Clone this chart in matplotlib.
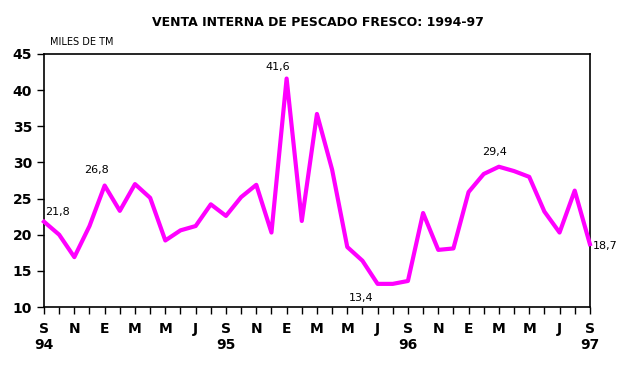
# Venta interna de pescado fresco, Sep 1994 - Sep 1997 (monthly)
import matplotlib.pyplot as plt
import numpy as np

# monthly values, miles de TM
venta = [21.8, 20.0, 16.9, 21.2, 26.8, 23.3, 27.0, 25.1, 19.2, 20.6, 21.2, 24.2,
         22.6, 25.2, 26.9, 20.3, 41.6, 21.9, 36.7, 29.0, 18.3, 16.4, 13.2, 13.2,
         13.6, 23.0, 17.9, 18.1, 25.9, 28.4, 29.4, 28.8, 28.0, 23.2, 20.3, 26.1,
         18.7]
meses = ["S\n94", "N", "E", "M", "M", "J", "S\n95", "N", "E", "M", "M", "J",
         "S\n96", "N", "E", "M", "M", "J", "S\n97"]
# point labels: (month index, text)
etiquetas = [(0, "21,8"), (4, "26,8"), (16, "41,6"), (30, "29,4"), (22, "13,4"), (36, "18,7")]

x = np.arange(len(venta))

fig = plt.figure(figsize=(6.26, 3.76), dpi=100)
ax = fig.add_axes([0.0703, 0.1835, 0.872, 0.673])

ax.plot(x, venta, color="#FF00FF", lw=3, clip_on=False, zorder=3)

ax.set_xlim(0, 36)
ax.set_ylim(10, 45)
ax.set_yticks(range(10, 46, 5))
ax.set_xticks(x[::2])
ax.set_xticklabels(meses)
ax.set_xticks(x, minor=True)
ax.tick_params(axis="both", direction="out", length=5, width=1, labelsize=10)
ax.tick_params(axis="x", which="minor", length=5, width=1)
ax.tick_params(axis="x", pad=6)
for lab in ax.get_xticklabels() + ax.get_yticklabels():
    lab.set_fontweight("bold")

for s in ax.spines.values():
    s.set_linewidth(1.2)

# data labels: offsets (months, points) and alignment
offs = {0: (0.05, 7, "left"), 4: (-0.55, 11, "center"), 16: (-0.6, 8, "center"),
        30: (-0.26, 10.5, "center"), 22: (-1.1, -10, "center"), 36: (0.2, -1.5, "left")}
for i, txt in etiquetas:
    dx, dy, ha = offs[i]
    ax.annotate(txt, (x[i] + dx, venta[i]), xytext=(0, dy), textcoords="offset points",
                ha=ha, va="center", fontsize=8, annotation_clip=False)

fig.text(0.508, 0.94, "VENTA INTERNA DE PESCADO FRESCO: 1994-97", ha="center",
         va="center", fontsize=9, fontweight="bold")
fig.text(0.08, 0.887, "MILES DE TM", ha="left", va="center", fontsize=7)

plt.savefig("out.png", dpi=100)
